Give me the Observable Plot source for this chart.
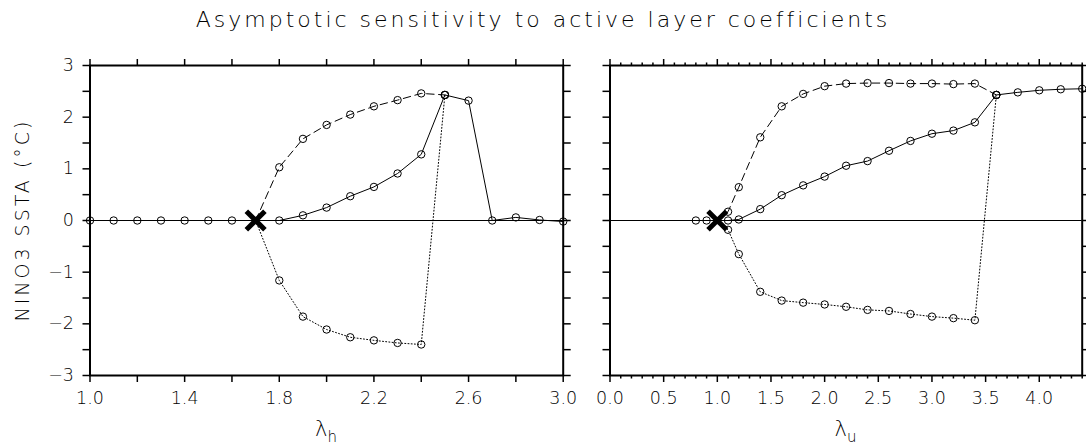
<!DOCTYPE html>
<html>
<head>
<meta charset="utf-8">
<script src="https://cdn.jsdelivr.net/npm/d3@7"></script>
<script src="https://cdn.jsdelivr.net/npm/@observablehq/plot@0.6"></script>
<style>
  html, body { margin: 0; padding: 0; background: #fff; }
  #chart { position: relative; width: 1086px; height: 447px; background: #fff; overflow: hidden; }
  #title { position: absolute; left: 0; top: 7px; width: 1086px; text-align: center;
           font-family: "DejaVu Sans", sans-serif; font-weight: 200; font-size: 22px; letter-spacing: 3px; color: #000; }
  .panel { position: absolute; top: 35px; }
  .panel text { font-weight: 200; }
</style>
</head>
<body>
<div id="chart">
  <div id="title">Asymptotic sensitivity to active layer coefficients</div>
  <div id="left" class="panel" style="left:0px"></div>
  <div id="right" class="panel" style="left:580px"></div>
</div>
<script>
// ---------- Data: left panel (lambda_h) ----------
const hX        = [1.0, 1.1, 1.2, 1.3, 1.4, 1.5, 1.6, 1.7, 1.8, 1.9, 2.0, 2.1, 2.2, 2.3, 2.4, 2.5, 2.6, 2.7, 2.8, 2.9, 3.0];
const hSolid    = [0, 0, 0, 0, 0, 0, 0, 0, 0, 0.10, 0.25, 0.47, 0.65, 0.91, 1.28, 2.43, 2.32, 0, 0.06, 0.01, -0.02];
const hBranchX  = [1.7, 1.8, 1.9, 2.0, 2.1, 2.2, 2.3, 2.4, 2.5];
const hDashed   = [0, 1.03, 1.58, 1.85, 2.05, 2.21, 2.33, 2.46, 2.43];
const hDotted   = [0, -1.16, -1.86, -2.11, -2.26, -2.32, -2.37, -2.40, 2.43];
const hCritical = [1.7];

// ---------- Data: right panel (lambda_u) ----------
const uX        = [0.8, 0.9, 1.0, 1.1, 1.2, 1.4, 1.6, 1.8, 2.0, 2.2, 2.4, 2.6, 2.8, 3.0, 3.2, 3.4, 3.6, 3.8, 4.0, 4.2, 4.4];
const uSolid    = [0, 0, 0, 0, 0.02, 0.22, 0.49, 0.68, 0.85, 1.06, 1.15, 1.35, 1.54, 1.68, 1.74, 1.90, 2.43, 2.48, 2.52, 2.54, 2.55];
const uBranchX  = [1.0, 1.1, 1.2, 1.4, 1.6, 1.8, 2.0, 2.2, 2.4, 2.6, 2.8, 3.0, 3.2, 3.4, 3.6];
const uDashed   = [0, 0.17, 0.645, 1.61, 2.21, 2.45, 2.60, 2.65, 2.66, 2.66, 2.65, 2.65, 2.64, 2.65, 2.43];
const uDotted   = [0, -0.18, -0.65, -1.38, -1.55, -1.59, -1.625, -1.67, -1.73, -1.75, -1.81, -1.86, -1.89, -1.93, 2.43];
const uCritical = [1.0];

// ---------- Ticks ----------
const yTicks      = [-3, -2.5, -2, -1.5, -1, -0.5, 0, 0.5, 1, 1.5, 2, 2.5, 3];
const yTickLabels = [-3, -2, -1, 0, 1, 2, 3];
const hTicks      = [1.0, 1.2, 1.4, 1.6, 1.8, 2.0, 2.2, 2.4, 2.6, 2.8, 3.0];
const hTickLabels = [1.0, 1.4, 1.8, 2.2, 2.6, 3.0];
const uMajor      = [0.0, 0.5, 1.0, 1.5, 2.0, 2.5, 3.0, 3.5, 4.0];
const uMinor      = [0.1, 0.2, 0.3, 0.4, 0.6, 0.7, 0.8, 0.9, 1.1, 1.2, 1.3, 1.4, 1.6, 1.7, 1.8, 1.9,
                     2.1, 2.2, 2.3, 2.4, 2.6, 2.7, 2.8, 2.9, 3.1, 3.2, 3.3, 3.4, 3.6, 3.7, 3.8, 3.9,
                     4.1, 4.2, 4.3, 4.4];

const yLabel = "NINO3 SSTA (°C)";
const FONT = "DejaVu Sans";

function pts(xs, ys) { return xs.map((x, i) => ({x, y: ys[i]})); }
const fmtY = d => yTickLabels.includes(d) ? (d < 0 ? "\u2212" + Math.abs(d) : String(d)) : "";

function panel(o) {
  const solid = pts(o.xs, o.solid);
  const dashed = pts(o.bx, o.dashed);
  const dotted = pts(o.bx, o.dotted);
  const crit = o.crit.map(x => ({x, y: 0}));
  const notCrit = d => !o.crit.includes(d.x);
  const axisCommon = {strokeWidth: 1.5, label: null, fontSize: 17.5, fontFamily: FONT, fill: "#000"};
  const marks = [
    Plot.ruleY([0], {stroke: "#000", strokeWidth: 1}),
    Plot.line(dotted, {x: "x", y: "y", stroke: "#000", strokeWidth: 1, strokeDasharray: "1,2.2"}),
    Plot.line(dashed, {x: "x", y: "y", stroke: "#000", strokeWidth: 1, strokeDasharray: "7.5,4.5"}),
    Plot.line(solid, {x: "x", y: "y", stroke: "#000", strokeWidth: 1}),
    Plot.dot(solid.filter(notCrit), {x: "x", y: "y", r: 3.7, stroke: "#000", strokeWidth: 1, fill: "none"}),
    Plot.dot(dashed.filter(notCrit), {x: "x", y: "y", r: 3.7, stroke: "#000", strokeWidth: 1, fill: "none"}),
    Plot.dot(dotted.filter(notCrit), {x: "x", y: "y", r: 3.7, stroke: "#000", strokeWidth: 1, fill: "none"}),
    Plot.dot(crit, {x: "x", y: "y", symbol: "times", r: 8.5, stroke: "#000", strokeWidth: 5}),
    Plot.frame({stroke: "#000", strokeWidth: 2}),
    Plot.axisX(o.major, {...axisCommon, anchor: "bottom", tickSize: 7, tickPadding: 9,
      tickFormat: d => o.labels.includes(d) ? d.toFixed(1) : ""}),
    Plot.axisX(o.major, {...axisCommon, anchor: "top", tickSize: 7, tickFormat: () => ""}),
    Plot.axisY(yTicks, {...axisCommon, anchor: "left", tickSize: 7, tickPadding: 9,
      tickFormat: o.yLabels ? fmtY : () => ""}),
    Plot.axisY(yTicks, {...axisCommon, anchor: "right", tickSize: 7, tickFormat: () => ""})
  ];
  if (o.minor) {
    marks.push(Plot.axisX(o.minor, {...axisCommon, anchor: "bottom", tickSize: 3.5, tickFormat: () => ""}));
    marks.push(Plot.axisX(o.minor, {...axisCommon, anchor: "top", tickSize: 3.5, tickFormat: () => ""}));
  }
  const svg = Plot.plot({
    width: o.width, height: 412,
    marginLeft: o.ml, marginRight: o.mr, marginTop: 30, marginBottom: 72,
    x: {domain: o.xDomain, label: null},
    y: {domain: [-3, 3], label: null},
    style: {fontFamily: FONT, fontSize: "17.5px", color: "#000", background: "none", overflow: "visible"},
    marks
  });
  const s = d3.select(svg);
  const cx = o.ml + (o.width - o.ml - o.mr) / 2;
  const t = s.append("text")
    .attr("x", cx).attr("y", 401)
    .attr("text-anchor", "middle")
    .attr("font-family", FONT).attr("fill", "#000");
  t.append("tspan").attr("font-size", 21).text("\u03bb");
  t.append("tspan").attr("font-size", 15).attr("dy", 6).text(o.sub);
  if (o.yLabels) {
    s.append("text")
      .attr("transform", "translate(22,185) rotate(-90)")
      .attr("text-anchor", "middle").attr("dominant-baseline", "central")
      .attr("font-family", FONT).attr("font-size", 19).attr("letter-spacing", 3)
      .attr("fill", "#000")
      .text(yLabel);
  }
  return svg;
}

document.getElementById("left").appendChild(panel({
  width: 580, ml: 89.5, mr: 17.3, xDomain: [1, 3],
  xs: hX, solid: hSolid, bx: hBranchX, dashed: hDashed, dotted: hDotted, crit: hCritical,
  major: hTicks, labels: hTickLabels, minor: null, yLabels: true, sub: "h"
}));
document.getElementById("right").appendChild(panel({
  width: 506, ml: 29.5, mr: 4.3, xDomain: [0, 4.4],
  xs: uX, solid: uSolid, bx: uBranchX, dashed: uDashed, dotted: uDotted, crit: uCritical,
  major: uMajor, labels: uMajor, minor: uMinor, yLabels: false, sub: "u"
}));
</script>
</body>
</html>
